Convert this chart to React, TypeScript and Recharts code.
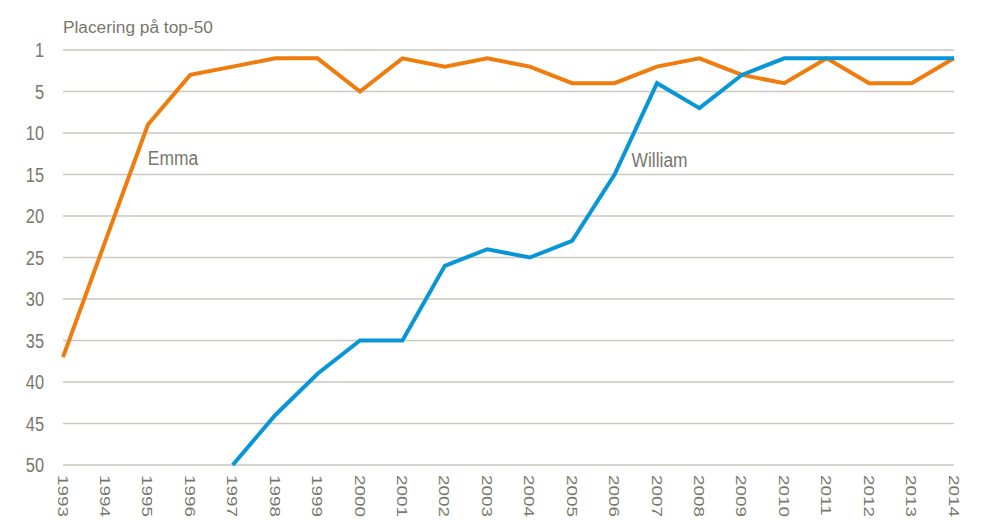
import { LineChart, Line, XAxis, YAxis, CartesianGrid, ReferenceDot } from "recharts";

const years = [
  "1993", "1994", "1995", "1996", "1997", "1998", "1999", "2000", "2001", "2002", "2003",
  "2004", "2005", "2006", "2007", "2008", "2009", "2010", "2011", "2012", "2013", "2014",
];
const emma = [37, 23, 9, 3, 2, 1, 1, 5, 1, 2, 1, 2, 4, 4, 2, 1, 3, 4, 1, 4, 4, 1];
const william = [null, null, null, null, 50, 44, 39, 35, 35, 26, 24, 25, 23, 15, 4, 7, 3, 1, 1, 1, 1, 1];
const yTicks = [0, 5, 10, 15, 20, 25, 30, 35, 40, 45, 50];

const TEXT = "#77776b";
const FONT = "'Liberation Sans', Arial, sans-serif";

const data = years.map((year, i) => ({ year, emma: emma[i], william: william[i] }));

// the picture is a bit squeezed sideways, so text is scaled to match
function YearTick({ x, y, payload }: any) {
  return (
    <text transform={`translate(${x}, ${y}) rotate(90) scale(1.22, 1)`} textAnchor="start" dominantBaseline="central" fill={TEXT} fontSize={15.5} fontFamily={FONT}>
      {payload.value}
    </text>
  );
}

function RankTick({ x, y, payload }: any) {
  return (
    <text transform={`translate(${x}, ${y}) scale(0.78, 1)`} textAnchor="end" dominantBaseline="central" fill={TEXT} fontSize={21} fontFamily={FONT}>
      {payload.value === 0 ? "1" : payload.value}
    </text>
  );
}

function NameLabel({ viewBox, value, dx }: any) {
  return (
    <text transform={`translate(${viewBox.x + dx}, ${viewBox.y}) scale(0.87, 1)`} textAnchor="start" dominantBaseline="central" fill={TEXT} fontSize={20} fontFamily={FONT}>
      {value}
    </text>
  );
}

export default function App() {
  return (
    <div style={{ position: "relative", width: 977, height: 516, fontFamily: FONT }}>
      <div style={{ position: "absolute", left: 55, top: 9, fontSize: 17.3, color: TEXT, whiteSpace: "nowrap" }}>Placering på top-50</div>
      <LineChart width={977} height={516} data={data} margin={{ top: 42, right: 31, left: 0, bottom: 0 }}>
        <CartesianGrid vertical={false} stroke="#c9c9c1" strokeWidth={1.3} />
        <XAxis dataKey="year" axisLine={false} tickLine={false} interval={0} height={59} tick={<YearTick />} tickMargin={4} />
        <YAxis
          width={55}
          reversed
          domain={[0, 50]}
          ticks={yTicks}
          interval={0}
          axisLine={false}
          tickLine={false}
          tickMargin={13}
          tick={<RankTick />}
        />
        <Line dataKey="emma" stroke="#ef7c0c" strokeWidth={4} dot={false} isAnimationActive={false} />
        <Line dataKey="william" stroke="#0996d7" strokeWidth={4} dot={false} isAnimationActive={false} connectNulls={false} />
        <ReferenceDot x="1995" y={13} r={0} label={<NameLabel value="Emma" dx={0} />} />
        <ReferenceDot x="2006" y={13.3} r={0} label={<NameLabel value="William" dx={17} />} />
      </LineChart>
    </div>
  );
}
